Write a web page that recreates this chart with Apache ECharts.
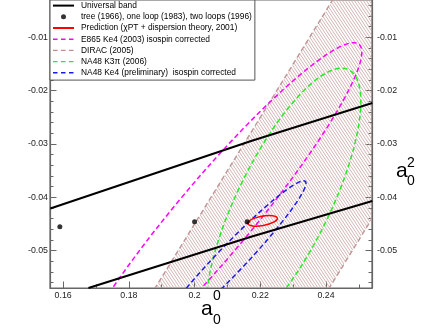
<!DOCTYPE html>
<html>
<head>
<meta charset="utf-8">
<script src="https://cdn.jsdelivr.net/npm/echarts@6/dist/echarts.min.js"></script>
<style>
  html, body { margin: 0; padding: 0; background: #fff; }
  #chart { width: 430px; height: 332px; }
</style>
</head>
<body>
<div id="chart"></div>
<script>
// axis ranges and ticks (a0^0 on x, a0^2 on y)
const xMin = 0.156, xMax = 0.254
const yMin = -0.057, yMax = -0.003
const xMajorTicks = [0.16, 0.18, 0.2, 0.22, 0.24]
const xMinorTicks = [0.17, 0.19, 0.21, 0.23, 0.25]
const yMajorTicks = [-0.05, -0.04, -0.03, -0.02, -0.01]
const yMinorTicks = [-0.056, -0.054, -0.052, -0.048, -0.046, -0.044, -0.042, -0.038, -0.036, -0.034,
  -0.032, -0.028, -0.026, -0.024, -0.022, -0.018, -0.016, -0.014, -0.012, -0.008, -0.006, -0.004]

// universal band edges [a0^0, a0^2]
const bandUpper = [[0.1561, -0.0421], [0.2172, -0.02945], [0.2541, -0.0223]]
const bandLower = [[0.1677, -0.0570], [0.2172, -0.0474], [0.2541, -0.0407]]

// tree, one loop, two loops
const chptPoints = [[0.159, -0.0455], [0.200, -0.0446], [0.216, -0.0446]]

// error ellipses: [a0^0, a0^2, sigma a0^0, sigma a0^2, correlation]
const predictionEllipse = [0.2207, -0.0444, 0.0045, 0.0010, 0.45]
const e865Ellipse = [0.2055, -0.0440, 0.0454, 0.0330, 0.946]
const k3piEllipse = [0.2271, -0.0410, 0.0235, 0.0252, 0.751]
const ke4Ellipse = [0.2105, -0.0520, 0.0234, 0.0151, 0.969]

// DIRAC: limits on a0^0 - a0^2, drawn over this a0^2 span
const diracDiff = [0.245, 0.298]
const diracA02Span = [-0.07, 0.01]

const names = [
  'Universal band',
  'tree (1966), one loop (1983), two loops (1996)',
  'Prediction (\u03c7PT + dispersion theory, 2001)',
  'E865 Ke4 (2003) isospin corrected',
  'DIRAC (2005)',
  'NA48 K3\u03c0 (2006)',
  'NA48 Ke4 (preliminary)  isospin corrected'
]

const axisColor = '#666'
const labelStyle = { fontSize: 8.8, fontFamily: 'Liberation Sans', color: '#222' }
const dashes = [5, 3]

const solidIcon = 'path://M0,0L0,0M23,5L23,5M0,1.5h21v2h-21z'
const dashIcon = 'path://M0,0L0,0M23,5L23,5M0,1.8h4.5v1.4h-4.5zM8,1.8h4.5v1.4h-4.5zM16,1.8h4.5v1.4h-4.5z'
const dotIcon = 'path://M0,0L0,0M23,5L23,5M8,2.5a2.5,2.5,0,1,0,5,0a2.5,2.5,0,1,0,-5,0z'

const hatchPattern = () => {
  const c = document.createElement('canvas')
  c.width = 6
  c.height = 9
  const ctx = c.getContext('2d')
  ctx.strokeStyle = 'rgb(196,156,156)'
  ctx.lineWidth = 0.75
  for (let k = -3; k <= 3; k++) {
    ctx.beginPath()
    ctx.moveTo(k * 3, 0)
    ctx.lineTo(k * 3 + 6, 9)
    ctx.stroke()
  }
  return c
}
const hatch = hatchPattern()

// covariance ellipse -> pixel ellipse (axes have different scales)
const ellipseRender = (color, dash, width) => (params, api) => {
  const c = api.coord([api.value(0), api.value(1)])
  const k = api.size([0.01, 0.01])
  const sx = api.value(2) * k[0] / 0.01
  const sy = api.value(3) * k[1] / 0.01
  const rho = api.value(4)
  const a = sx * sx
  const cc = sy * sy
  const b = -rho * sx * sy
  const theta = 0.5 * Math.atan2(2 * b, a - cc)
  const t = Math.sqrt(((a - cc) / 2) ** 2 + b * b)
  const rx = Math.sqrt((a + cc) / 2 + t)
  const ry = Math.sqrt(Math.max((a + cc) / 2 - t, 0))
  return {
    type: 'ellipse',
    x: c[0],
    y: c[1],
    rotation: -theta,
    shape: { cx: 0, cy: 0, rx: rx, ry: ry },
    style: { fill: 'none', stroke: color, lineWidth: width, lineDash: dash }
  }
}

const diracRender = (params, api) => {
  const lo = api.value(0)
  const hi = api.value(1)
  const s0 = diracA02Span[0]
  const s1 = diracA02Span[1]
  const pts = [
    api.coord([lo + s0, s0]), api.coord([hi + s0, s0]),
    api.coord([hi + s1, s1]), api.coord([lo + s1, s1])
  ]
  const edge = { fill: 'none', stroke: '#bf9595', lineWidth: 1.4, lineDash: dashes }
  return {
    type: 'group',
    children: [
      { type: 'polygon', shape: { points: pts }, style: { fill: { image: hatch, repeat: 'repeat' }, stroke: 'none' } },
      { type: 'polyline', shape: { points: [pts[0], pts[3]] }, style: edge },
      { type: 'polyline', shape: { points: [pts[1], pts[2]] }, style: edge }
    ]
  }
}

const chart = echarts.init(document.getElementById('chart'))

const option = {
  animation: false,
  grid: { left: 50, right: 58, top: 0, bottom: 44, show: true, borderColor: axisColor, borderWidth: 1.2 },
  xAxis: [
    {
      type: 'value', position: 'bottom', min: xMin, max: xMax,
      axisLine: { show: true, lineStyle: { color: axisColor, width: 1.2 } },
      axisTick: { show: true, inside: true, length: 6.5, customValues: xMajorTicks, lineStyle: { color: axisColor } },
      axisLabel: { show: true, customValues: xMajorTicks, margin: 3, ...labelStyle },
      splitLine: { show: false }
    },
    {
      type: 'value', position: 'bottom', min: xMin, max: xMax,
      axisLine: { show: false },
      axisTick: { show: true, inside: true, length: 3.5, customValues: xMinorTicks, lineStyle: { color: axisColor } },
      axisLabel: { show: false },
      splitLine: { show: false }
    }
  ],
  yAxis: [
    {
      type: 'value', position: 'left', min: yMin, max: yMax,
      axisLine: { show: true, lineStyle: { color: axisColor, width: 1.2 } },
      axisTick: { show: true, inside: true, length: 6.5, customValues: yMajorTicks, lineStyle: { color: axisColor } },
      axisLabel: { show: true, customValues: yMajorTicks, margin: 2, ...labelStyle },
      splitLine: { show: false }
    },
    {
      type: 'value', position: 'left', min: yMin, max: yMax,
      axisLine: { show: false },
      axisTick: { show: true, inside: true, length: 3.5, customValues: yMinorTicks, lineStyle: { color: axisColor } },
      axisLabel: { show: false },
      splitLine: { show: false }
    },
    {
      type: 'value', position: 'right', min: yMin, max: yMax,
      axisLine: { show: true, lineStyle: { color: axisColor, width: 1.2 } },
      axisTick: { show: true, inside: true, length: 6.5, customValues: yMajorTicks, lineStyle: { color: axisColor } },
      axisLabel: { show: true, customValues: yMajorTicks, margin: 5, ...labelStyle },
      splitLine: { show: false }
    },
    {
      type: 'value', position: 'right', min: yMin, max: yMax,
      axisLine: { show: false },
      axisTick: { show: true, inside: true, length: 3.5, customValues: yMinorTicks, lineStyle: { color: axisColor } },
      axisLabel: { show: false },
      splitLine: { show: false }
    }
  ],
  legend: {
    orient: 'vertical',
    left: 50,
    top: 0,
    padding: [0, 3, 1.7, 3],
    itemGap: 0,
    itemWidth: 23,
    itemHeight: 5,
    backgroundColor: '#fff',
    borderColor: '#555',
    borderWidth: 1,
    selectedMode: false,
    itemStyle: { borderWidth: 0 },
    textStyle: { fontSize: 8.4, lineHeight: 11.2, fontFamily: 'Liberation Sans', color: '#000' },
    data: [
      { name: names[0], icon: solidIcon },
      { name: names[1], icon: dotIcon },
      { name: names[2], icon: solidIcon },
      { name: names[3], icon: dashIcon },
      { name: names[4], icon: dashIcon },
      { name: names[5], icon: dashIcon },
      { name: names[6], icon: dashIcon }
    ]
  },
  graphic: [
    { type: 'text', x: 201, y: 299, style: { text: 'a', font: '21px "Liberation Sans"', fill: '#000' } },
    { type: 'text', x: 213, y: 289, style: { text: '0', font: '14px "Liberation Sans"', fill: '#000' } },
    { type: 'text', x: 213, y: 313, style: { text: '0', font: '14px "Liberation Sans"', fill: '#000' } },
    { type: 'text', x: 396, y: 161, style: { text: 'a', font: '21px "Liberation Sans"', fill: '#000' } },
    { type: 'text', x: 407, y: 156, style: { text: '2', font: '14px "Liberation Sans"', fill: '#000' } },
    { type: 'text', x: 407, y: 174, style: { text: '0', font: '14px "Liberation Sans"', fill: '#000' } }
  ],
  series: [
    {
      name: names[4], type: 'custom', clip: true, silent: true,
      itemStyle: { color: '#bc8f8f' },
      renderItem: diracRender,
      data: [diracDiff]
    },
    {
      name: names[3], type: 'custom', clip: true, silent: true,
      itemStyle: { color: '#ff00ff' },
      renderItem: ellipseRender('#ff00ff', dashes, 1.5),
      data: [e865Ellipse]
    },
    {
      name: names[5], type: 'custom', clip: true, silent: true,
      itemStyle: { color: '#22ee22' },
      renderItem: ellipseRender('#22ee22', dashes, 1.5),
      data: [k3piEllipse]
    },
    {
      name: names[6], type: 'custom', clip: true, silent: true,
      itemStyle: { color: '#1a1aee' },
      renderItem: ellipseRender('#1a1aee', dashes, 1.5),
      data: [ke4Ellipse]
    },
    {
      name: names[2], type: 'custom', clip: true, silent: true,
      itemStyle: { color: '#ff0000' },
      renderItem: ellipseRender('#ff0000', null, 1.5),
      data: [predictionEllipse]
    },
    {
      name: names[0], type: 'line', symbol: 'none', silent: true,
      itemStyle: { color: '#000' },
      lineStyle: { color: '#000', width: 2 },
      data: bandUpper
    },
    {
      name: names[0], type: 'line', symbol: 'none', silent: true,
      itemStyle: { color: '#000' },
      lineStyle: { color: '#000', width: 2 },
      data: bandLower
    },
    {
      name: names[1], type: 'scatter', symbolSize: 5, silent: true,
      itemStyle: { color: '#000' },
      data: chptPoints
    }
  ]
}

chart.setOption(option)
</script>
</body>
</html>
